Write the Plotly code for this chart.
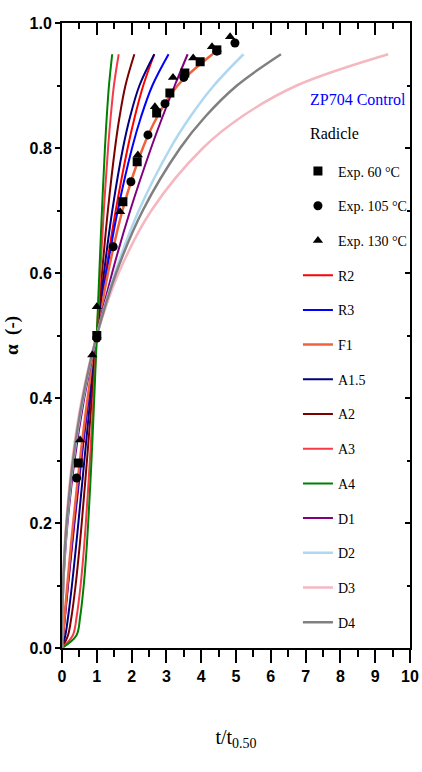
import plotly.graph_objects as go

# ---- data ----
ALPHA = [0, 0.02, 0.05, 0.1, 0.15, 0.2, 0.3, 0.4, 0.5, 0.6, 0.7, 0.8, 0.85, 0.9, 0.95]

T_R2 = [0, 0.034, 0.087, 0.175, 0.267, 0.360, 0.558, 0.770, 1.0, 1.255, 1.544, 1.887, 2.092, 2.335, 2.651]
T_R3 = [0, 0.033, 0.082, 0.167, 0.256, 0.348, 0.543, 0.759, 1.0, 1.276, 1.602, 2.013, 2.272, 2.597, 3.062]
T_F1 = [0, 0.029, 0.074, 0.152, 0.234, 0.322, 0.515, 0.737, 1.0, 1.322, 1.737, 2.322, 2.737, 3.322, 4.322]
T_A15 = [0, 0.095, 0.176, 0.285, 0.380, 0.470, 0.642, 0.816, 1.0, 1.205, 1.445, 1.753, 1.957, 2.226, 2.653]
T_A2 = [0, 0.171, 0.272, 0.390, 0.484, 0.567, 0.717, 0.858, 1.0, 1.150, 1.318, 1.524, 1.654, 1.823, 2.079]
T_A3 = [0, 0.308, 0.420, 0.534, 0.617, 0.685, 0.801, 0.903, 1.0, 1.098, 1.202, 1.324, 1.399, 1.492, 1.629]
T_A4 = [0, 0.413, 0.522, 0.624, 0.696, 0.753, 0.847, 0.927, 1.0, 1.072, 1.148, 1.234, 1.286, 1.350, 1.442]
T_D1 = [0, 0.002, 0.010, 0.040, 0.090, 0.160, 0.360, 0.640, 1.0, 1.440, 1.960, 2.560, 2.890, 3.240, 3.610]
T_D2 = [0, 0.001, 0.008, 0.034, 0.077, 0.140, 0.328, 0.610, 1.0, 1.522, 2.208, 3.116, 3.685, 4.365, 5.216]
T_D3 = [0, 0.001, 0.007, 0.028, 0.065, 0.121, 0.295, 0.576, 1.0, 1.628, 2.568, 4.051, 5.161, 6.747, 9.373]
T_D4 = [0, 0.001, 0.008, 0.032, 0.073, 0.133, 0.317, 0.598, 1.0, 1.556, 2.321, 3.397, 4.114, 5.028, 6.292]

EXP60_T = [0.47, 1.00, 1.75, 2.16, 2.72, 3.10, 3.53, 3.97, 4.45]
EXP60_A = [0.296, 0.500, 0.714, 0.778, 0.856, 0.888, 0.920, 0.938, 0.957]
EXP105_T = [0.42, 1.00, 1.47, 1.98, 2.47, 2.96, 3.50, 4.45, 4.97]
EXP105_A = [0.272, 0.496, 0.642, 0.746, 0.821, 0.871, 0.913, 0.955, 0.968]
EXP130_T = [0.52, 0.87, 1.00, 1.67, 2.18, 2.67, 3.19, 3.77, 4.31, 4.83]
EXP130_A = [0.333, 0.469, 0.546, 0.698, 0.789, 0.866, 0.913, 0.944, 0.962, 0.978]

MODEL_NAMES = ["R2", "R3", "F1", "A1.5", "A2", "A3", "A4", "D1", "D2", "D3", "D4"]
MODEL_T = [T_R2, T_R3, T_F1, T_A15, T_A2, T_A3, T_A4, T_D1, T_D2, T_D3, T_D4]
MODEL_COLORS = ["#FF0000", "#0000FF", "#F0623A", "#000080", "#7B0000", "#F53B47",
                "#008000", "#800080", "#ADD8F0", "#F5B7C0", "#808080"]
MODEL_WIDTHS = [2, 2, 2.5, 2, 2, 2, 2, 2, 2.5, 2.5, 2.5]

EXP_NAMES = ["Exp. 60 °C", "Exp. 105 °C", "Exp. 130 °C"]
EXP_SYMBOLS = ["square", "circle", "triangle-up"]
EXP_T = [EXP60_T, EXP105_T, EXP130_T]
EXP_A = [EXP60_A, EXP105_A, EXP130_A]

X_TICKS = list(range(0, 11))
Y_TICKS = [0.0, 0.2, 0.4, 0.6, 0.8, 1.0]

SERIF = "Times New Roman, Liberation Serif, serif"
SANS = "Arial, Liberation Sans, sans-serif"

fig = go.Figure()

rank = 4
for name, t, col, w in zip(MODEL_NAMES, MODEL_T, MODEL_COLORS, MODEL_WIDTHS):
    fig.add_trace(go.Scatter(x=t, y=ALPHA, mode="lines", name=name,
                             line=dict(color=col, width=w, shape="spline", smoothing=1),
                             legendgroup=name, legendrank=rank))
    rank += 1

for i, (name, sym, t, a) in enumerate(zip(EXP_NAMES, EXP_SYMBOLS, EXP_T, EXP_A)):
    fig.add_trace(go.Scatter(x=t, y=a, mode="markers", name=name,
                             marker=dict(symbol=sym, size=9, color="black"),
                             legendgroup=name, legendrank=i + 1))

# dummy trace for mirrored (inside-tick) axes
fig.add_trace(go.Scatter(x=[None], y=[None], xaxis="x2", yaxis="y2", showlegend=False,
                         hoverinfo="skip"))

tickfont = dict(family=SANS, size=16, color="black", weight="bold")

fig.update_layout(
    width=422, height=772,
    margin=dict(l=62, r=12, t=23, b=124, autoexpand=False),
    paper_bgcolor="white", plot_bgcolor="white",
    showlegend=True,
    legend=dict(x=0.678, y=0.788, xanchor="left", yanchor="top",
                font=dict(family=SERIF, size=14, color="black"),
                tracegroupgap=13.5, traceorder="grouped",
                bgcolor="rgba(0,0,0,0)", borderwidth=0),
    xaxis=dict(range=[0, 10], tickvals=X_TICKS, ticks="outside", ticklen=13, tickwidth=2,
               tickcolor="black", showline=True, linewidth=2, linecolor="black",
               showgrid=False, zeroline=False, tickfont=tickfont, automargin=False,
               minor=dict(dtick=0.5, ticks="outside", ticklen=7, tickwidth=2, tickcolor="black"),
               title=dict(text="t/t<sub>0.50</sub>", font=dict(family=SERIF, size=20, color="black"),
                          standoff=46)),
    yaxis=dict(range=[0, 1], tickvals=Y_TICKS, tickformat=".1f", ticks="outside", ticklen=5,
               tickwidth=2, tickcolor="black", showline=True, linewidth=2, linecolor="black",
               showgrid=False, zeroline=False, tickfont=tickfont, automargin=False,
               minor=dict(dtick=0.1, ticks="outside", ticklen=3, tickwidth=2, tickcolor="black"),
               title=dict(text="α  (-)", font=dict(family=SERIF, size=19, color="black", weight="bold"),
                          standoff=6)),
    xaxis2=dict(range=[0, 10], overlaying="x", side="top", anchor="y2", tickvals=X_TICKS,
                ticks="inside", ticklen=12, tickwidth=2, tickcolor="black", showticklabels=False,
                showline=True, linewidth=2, linecolor="black", showgrid=False, zeroline=False,
                minor=dict(dtick=0.5, ticks="inside", ticklen=6, tickwidth=2, tickcolor="black")),
    yaxis2=dict(range=[0, 1], overlaying="y", side="right", anchor="x2", tickvals=Y_TICKS,
                ticks="inside", ticklen=5, tickwidth=2, tickcolor="black", showticklabels=False,
                showline=True, linewidth=2, linecolor="black", showgrid=False, zeroline=False,
                minor=dict(dtick=0.1, ticks="inside", ticklen=3, tickwidth=2, tickcolor="black")),
    annotations=[
        dict(text="ZP704 Control", x=0.707, y=0.877, xref="paper", yref="paper",
             xanchor="left", yanchor="middle", showarrow=False,
             font=dict(family=SERIF, size=16, color="#0000FF")),
        dict(text="Radicle", x=0.707, y=0.824, xref="paper", yref="paper",
             xanchor="left", yanchor="middle", showarrow=False,
             font=dict(family=SERIF, size=16, color="black")),
    ],
)

fig.write_html("out.html")
